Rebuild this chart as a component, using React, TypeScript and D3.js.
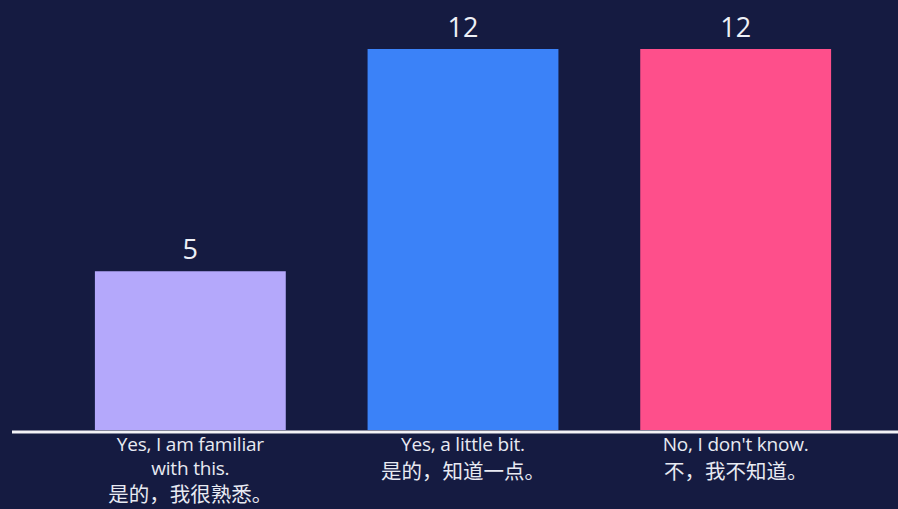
import React from "react";
import * as d3 from "d3";

const categories = ["familiar", "little", "dontknow"];
const values = [5, 12, 12];
const colors = ["#b4a8fb", "#3b82f8", "#fe4f8b"];
const labelLines: string[][] = [
  ["Yes, I am familiar", "with this.", "是的，我很熟悉。"],
  ["Yes, a little bit.", "是的，知道一点。"],
  ["No, I don't know.", "不，我不知道。"],
];

const W = 898;
const H = 509;
const baseY = 430;

export default function App() {
  const x = d3.scaleBand<string>().domain(categories).range([54, 872]).paddingInner(0.3).paddingOuter(0.15);
  const y = d3.scaleLinear().domain([0, 12]).range([baseY, 49]);
  const isCJK = (s: string) => /[\u4e00-\u9fff]/.test(s);
  return (
    <svg width={W} height={H} style={{ position: "absolute", left: 0, top: 0, display: "block" }}>
      <rect x={0} y={0} width={W} height={H} fill="#151b41" />
      {categories.map((c, i) => {
        const cx = x(c)! + x.bandwidth() / 2;
        return (
          <g key={c}>
            <rect x={x(c)!} y={y(values[i])} width={x.bandwidth()} height={baseY - y(values[i])} fill={colors[i]} />
            <text
              x={cx}
              y={y(values[i]) - 12}
              textAnchor="middle"
              fill="#eef0f6"
              fontFamily="'Open Sans', 'Noto Sans', sans-serif"
              fontSize={27}
            >
              {values[i]}
            </text>
            <text x={cx} y={451} textAnchor="middle" fill="#e8eaf2">
              {labelLines[i].map((ln, j) => {
                const cjk = isCJK(ln);
                return (
                  <tspan
                    key={j}
                    x={cx}
                    dy={j === 0 ? 0 : cjk ? 27.5 : 23.5}
                    fontFamily={cjk ? "'Noto Sans CJK SC', sans-serif" : "'Open Sans', 'Noto Sans', sans-serif"}
                    fontSize={cjk ? 20.5 : 19}
                    letterSpacing={cjk ? 0 : -0.2}
                  >
                    {ln}
                  </tspan>
                );
              })}
            </text>
          </g>
        );
      })}
      <line x1={12} x2={W} y1={432} y2={432} stroke="#f2f2f6" strokeWidth={3} />
    </svg>
  );
}
